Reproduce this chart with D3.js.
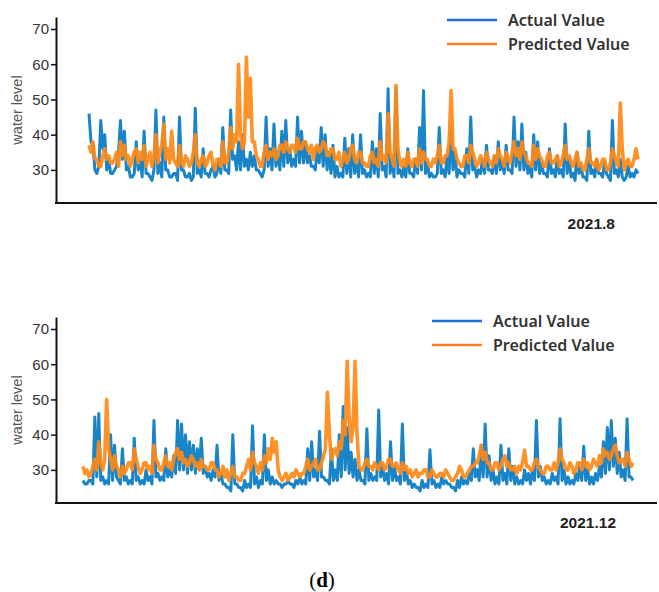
<!DOCTYPE html>
<html>
<head>
<meta charset="utf-8">
<script src="https://cdn.jsdelivr.net/npm/d3@7"></script>
<style>
  body { margin: 0; background: #fff; }
  svg { display: block; }
</style>
</head>
<body>
<div id="chart"></div>
<script>
// Water level: actual vs predicted, two periods (2021.8 and 2021.12)

const yTicks = [30, 40, 50, 60, 70];
const seriesNames = ['Actual Value', 'Predicted Value'];

const augActual = [
  46,38,37,30,29,31,44,36,40,30,
  33,29,29,30,31,35,44,33,41,30,
  31,28,28,29,38,30,33,28,41,29,
  29,28,27,30,47,29,32,28,45,30,
  30,28,28,29,29,27,45,30,30,28,
  28,29,27,28,47.5,29,30,28,36,29,
  29,28,30,31,28,29,33,29,42,30,
  30,29,47,33,34,30,38,30,40,31,
  33,30,35,31,34,30,30,29,28,30,
  45,31,36,30,43,31,35,30,41,31,
  44,32,36,31,33,31,45,32,41,32,
  38,32,34,31,31,30,36,32,42,31,
  40,30,35,29,37,28,31,28,29,28,
  39,29,36,28,40,29,33,28,40,29,
  30,28,29,28,38,29,36,28,46,30,
  31,28,53,29,33,28,53,29,30,28,
  31,28,36,29,29,28,33,29,42,30,
  52.5,29,32,28,29,28,28,29,42,29,
  30,28,34,29,41,30,35,28,30,29,
  29,28,36,29,45,30,31,28,30,29,
  33,29,37,30,30,29,34,29,38,30,
  32,29,37,30,30,29,45,31,38,30,
  43,30,35,29,31,28,40,30,38,29,
  32,29,29,28,36,29,30,28,34,29,
  30,28,43,29,33,28,29,27,35,29,
  31,28,28,27,41,29,30,28,33,29,
  29,28,32,29,28,27,44,29,30,28,
  33,28,27,28,31,28,29,28,30,29
];
const augPredicted = [
  37,35,38,33,33,31,31,34,36,33,
  34,32,32,33,35,31,38,34,37,33,
  34,31,33,35,36,32,35,33,37,31,
  33,35,31,34,40,32,35,37,43,33,
  36,32,41,33,32,31,37,32,31,34,
  33,31,32,35,40,32,31,33,34,31,
  32,34,35,31,30,33,33,31,38,32,
  32,35,42,36,40,38,60,40,36,38,
  62,45,56,38,38,34,33,31,31,35,
  37,33,35,34,36,33,34,37,37,35,
  38,36,35,37,37,35,39,36,36,38,
  38,36,35,37,33,36,37,35,36,38,
  37,34,34,36,36,33,33,35,31,33,
  35,32,33,36,37,33,32,35,35,32,
  32,31,31,34,35,32,33,31,38,33,
  34,32,46,35,33,31,54,36,32,31,
  33,31,35,32,31,33,33,31,36,32,
  35,33,33,31,31,33,32,34,37,32,
  32,34,34,38,52.5,36,36,33,32,31,
  31,34,34,32,37,35,33,31,32,34,
  33,31,35,33,32,31,34,32,36,34,
  33,31,35,33,32,35,38,34,36,33,
  38,35,34,32,32,31,37,33,36,34,
  33,31,31,34,35,32,32,33,34,31,
  32,34,37,33,34,32,31,33,35,31,
  32,30,30,33,36,32,32,31,33,30,
  31,33,33,30,30,32,36,34,32,31,
  49,36,30,32,33,31,31,33,36,33
];

const decActual = [
  27,26,26,27,27,26,45,28,46,27,
  28,26,27,26,40,27,37,28,27,26,
  36,27,28,26,27,26,39,27,28,26,
  27,26,30,27,28,26,44,28,29,27,
  28,27,36,28,30,28,34,29,44,30,
  43,30,40,29,38,30,37,29,36,30,
  39,29,31,28,29,27,30,28,37,27,
  29,26,26,25,25,24,40,26,26,25,
  25,24,27,25,26,25,42.5,26,28,25,
  27,26,40,27,30,26,28,26,27,26,
  26,25,26,26,27,26,26,25,27,26,
  28,26,27,26,36,27,38,28,30,27,
  41,28,28,27,27,26,36,27,30,27,
  40,28,48,30,42,29,35,28,33,27,
  30,27,27,26,41.7,27,29,27,28,27,
  47,28,31,27,29,26,38,27,31,27,
  28,26,43,27,30,26,27,25,26,25,
  25,24,27,25,26,25,35.7,26,27,25,
  26,25,28,26,27,26,26,25,25,24,
  27,25,28,26,27,26,29,27,36,28,
  30,27,37,28,43,28,34,27,30,26,
  28,26,37,27,29,26,36,27,31,26,
  28,26,27,26,30,27,29,26,30,27,
  44,28,31,27,28,26,27,26,29,27,
  28,26,44.5,27,30,26,28,26,27,26,
  29,27,31,27,36.7,27,30,26,28,26,
  29,27,31,28,38,29,42,30,44,31,
  39,29,35,28,30,27,44.5,28,28,27
];
const decPredicted = [
  31,29,30,28,29,31,33,30,38,32,
  30,33,50,36,33,30,34,31,30,28,
  31,29,30,32,32,30,36,33,31,29,
  30,32,32,30,31,29,37,33,32,30,
  30,32,34,31,32,30,33,35,36,33,
  35,32,33,31,32,34,33,31,32,30,
  33,31,31,30,30,32,32,30,30,28,
  29,31,28,30,27,29,31,28,28,27,
  27,29,29,31,33,30,35,32,31,29,
  32,30,34,32,36,33,39,35,38,30,
  28,27,28,29,27,28,29,28,30,29,
  28,29,29,31,33,30,31,32,33,30,
  30,32,34,36,52,40,33,35,36,34,
  38,36,44,40,60.8,45,38,42,60.8,40,
  31,30,30,32,33,31,31,30,32,31,
  30,32,32,30,31,33,33,31,31,32,
  30,29,32,30,31,29,30,28,29,30,
  28,29,29,30,30,28,28,30,29,28,
  28,29,29,28,30,29,28,27,27,28,
  29,31,30,28,28,29,30,31,31,32,
  32,34,37,33,35,32,32,30,30,32,
  32,30,31,33,34,31,32,30,30,31,
  29,31,30,32,35.6,31,31,30,30,32,
  33,31,30,29,29,31,31,30,30,32,
  30,32,36,33,32,30,30,32,31,29,
  30,32,32,30,33,31,32,30,31,33,
  32,31,34,32,36,34,35,33,34,36,
  37,34,32,33,33,31,35,33,31,32
];

const width = 659;
const height = 592;
const blue = '#1a84c8';
const orange = '#ff8a17';
const blueLegend = '#1f6fd0';
const orangeLegend = '#ff7f27';

const svg = d3.select('#chart').append('svg')
  .attr('width', width)
  .attr('height', height);

const panels = [
  { actual: augActual, predicted: augPredicted, label: '2021.8',
    top: 17, bottom: 203, x0: 89, x1: 638, labelX: 615, labelY: 229,
    legendX: 447, legendY: 20 },
  { actual: decActual, predicted: decPredicted, label: '2021.12',
    top: 317, bottom: 503, x0: 83, x1: 633, labelX: 616, labelY: 528,
    legendX: 432, legendY: 321 }
];

const axisX = 56;

panels.forEach(p => {
  const g = svg.append('g');

  const y = d3.scaleLinear().domain([20.6, 73.4]).range([p.bottom, p.top]);
  const x = d3.scaleLinear().domain([0, p.actual.length - 1]).range([p.x0, p.x1]);

  const line = d3.line()
    .x((d, i) => x(i))
    .y(d => y(d));

  g.append('path')
    .attr('d', line(p.actual))
    .attr('fill', 'none')
    .attr('stroke', blue)
    .attr('stroke-width', 3)
    .attr('stroke-linejoin', 'round');

  g.append('path')
    .attr('d', line(p.predicted))
    .attr('fill', 'none')
    .attr('stroke', orange)
    .attr('stroke-opacity', 0.92)
    .attr('stroke-width', 3.6)
    .attr('stroke-linejoin', 'round');

  // y axis
  const yAxis = g.append('g')
    .attr('transform', `translate(${axisX},0)`)
    .call(d3.axisLeft(y).tickValues(yTicks).tickSize(5).tickSizeOuter(0));
  yAxis.select('.domain').attr('stroke', '#111').attr('stroke-width', 2);
  yAxis.selectAll('.tick line').attr('stroke', '#111').attr('stroke-width', 1.5);
  yAxis.selectAll('.tick text')
    .attr('x', -7)
    .style('font-family', '"Liberation Sans", Arial, sans-serif')
    .style('font-size', '15px')
    .style('fill', '#333');

  // x axis baseline
  g.append('line')
    .attr('x1', axisX - 1).attr('x2', 657)
    .attr('y1', p.bottom).attr('y2', p.bottom)
    .attr('stroke', '#111')
    .attr('stroke-width', 1.8);

  g.append('text')
    .attr('transform', `translate(22, ${p.top + 93}) rotate(-90)`)
    .attr('text-anchor', 'middle')
    .style('font-family', '"Liberation Sans", Arial, sans-serif')
    .style('font-size', '14.5px')
    .style('fill', '#555')
    .text('water level');

  g.append('text')
    .attr('x', p.labelX)
    .attr('y', p.labelY)
    .attr('text-anchor', 'end')
    .style('font-family', '"Liberation Sans", Arial, sans-serif')
    .style('font-size', '15.5px')
    .style('font-weight', '700')
    .style('fill', '#222')
    .text(p.label);

  // legend
  const legend = g.append('g')
    .attr('transform', `translate(${p.legendX}, ${p.legendY})`);
  [blueLegend, orangeLegend].forEach((c, i) => {
    legend.append('line')
      .attr('x1', 0).attr('x2', 50)
      .attr('y1', i * 24).attr('y2', i * 24)
      .attr('stroke', c)
      .attr('stroke-width', 2.4);
    legend.append('text')
      .attr('x', 61)
      .attr('y', i * 24 + 6)
      .style('font-family', '"Noto Sans", sans-serif')
      .style('font-size', '16px')
      .style('font-weight', '600')
      .style('fill', '#333')
      .text(seriesNames[i]);
  });
});

svg.append('text')
  .attr('x', 322)
  .attr('y', 587)
  .attr('text-anchor', 'middle')
  .style('font-family', '"Liberation Serif", "DejaVu Serif", serif')
  .style('font-size', '21px')
  .style('fill', '#000')
  .html('(<tspan font-weight="bold">d</tspan>)');
</script>
</body>
</html>
